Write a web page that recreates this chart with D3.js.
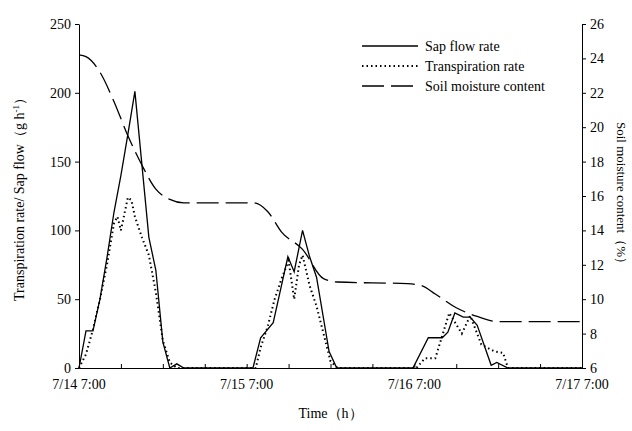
<!DOCTYPE html>
<html><head><meta charset="utf-8">
<script src="https://cdn.jsdelivr.net/npm/d3@7.9.0/dist/d3.min.js"></script>
<style>body{margin:0;background:#fff}text{font-family:"Liberation Serif",serif;fill:#000}</style>
</head><body><svg id="c" width="632" height="431"></svg>
<script>
// hours since 7/14 7:00
const sapHours = [0,1,2,3,4,5,6,7,8,9,10,11,12,13,14,15, 24.9,26,27.8,29.9,30.8,32,33,34,35.8,36.9, 47.8,50,52,52.8,53.8,55,56,57,59,59.8,61.4,72];
const sapFlow  = [0,27,27,50,80,113,140,170,201,148,95,71,19,0,3,0, 0,22,33,81,70,100,81,66,12,0, 0,22,22,26,40,37,37,31,2,4,0,0];
const trHours = [0,1,2,3,4,5,5.5,6,7,7.5,8,9,10,11,12,13,14, 25.3,26,27,28,29,30,30.8,31.5,32,33,34,35,36,37, 48.3,49.5,51,53,54.8,56,57.6,59.5,60.7,61.4,72];
const transp  = [0,10,28,50,75,105,110,100,124,122,110,95,82,55,20,4,0, 0,15,30,50,65,78,50,75,82,60,45,25,5,0, 0,7,7,40,25,38,17,12,11,0,0];
const smHours = [0,1,3,5,7,9,11,13,15,17,25,27,29,32,35,37,47,49,51,54,57,60,72];
const soil    = [24.2,24.1,23.2,21.5,19.5,17.8,16.4,15.8,15.6,15.6,15.6,15.1,13.9,12.9,11.2,11,10.9,10.8,10.3,9.5,9,8.7,8.7];
const xTickLabels = ["7/14 7:00","7/15 7:00","7/16 7:00","7/17 7:00"];

const svg = d3.select("#c");
const L = 79, R = 582, T = 24, B = 368;
const x = d3.scaleLinear().domain([0,72]).range([L,R]);
const y = d3.scaleLinear().domain([0,250]).range([B,T]);
const y2 = d3.scaleLinear().domain([6,26]).range([B,T]);

const fs = "14px";
svg.append("g").attr("transform",`translate(0,${B})`)
  .call(d3.axisBottom(x).tickValues(d3.range(0,73,6)).tickSize(-4).tickFormat(""))
  .call(g=>g.selectAll("line,path").attr("stroke","#000"));
svg.append("g").selectAll("text").data(xTickLabels).join("text")
  .attr("x",(d,i)=>x(i*24)).attr("y",B+21).attr("text-anchor","middle").style("font-size",fs).text(d=>d);
svg.append("g").attr("transform",`translate(${L},0)`)
  .call(d3.axisLeft(y).ticks(5).tickSize(4).tickSizeOuter(0))
  .call(g=>g.selectAll("line,path").attr("stroke","#000"))
  .call(g=>g.selectAll("text").style("font-size",fs).attr("font-family","Liberation Serif").attr("x",-8));
svg.append("g").attr("transform",`translate(${R},0)`)
  .call(d3.axisRight(y2).ticks(10).tickSize(4).tickSizeOuter(0))
  .call(g=>g.selectAll("line,path").attr("stroke","#000"))
  .call(g=>g.selectAll("text").style("font-size",fs).attr("font-family","Liberation Serif").attr("x",8));

const line = (xs,ys,sc,c)=>d3.line().curve(c||d3.curveLinear).x(i=>x(xs[i])).y(i=>sc(ys[i]))(d3.range(xs.length));
svg.append("path").attr("d",line(smHours,soil,y2,d3.curveMonotoneX)).attr("fill","none").attr("stroke","#000")
  .attr("stroke-width",1.3).attr("stroke-dasharray","22,7");
svg.append("path").attr("d",line(trHours,transp,y)).attr("fill","none").attr("stroke","#000")
  .attr("stroke-width",2).attr("stroke-dasharray","1.5,3");
svg.append("path").attr("d",line(sapHours,sapFlow,y)).attr("fill","none").attr("stroke","#000").attr("stroke-width",1.3);

const leg = [["Sap flow rate",null,1.3],["Transpiration rate","1.5,3",2],["Soil moisture content","22,7",1.3]];
leg.forEach((d,i)=>{
  const yy = 46 + i*20;
  svg.append("line").attr("x1",362).attr("x2",418).attr("y1",yy).attr("y2",yy)
    .attr("stroke","#000").attr("stroke-width",d[2]).attr("stroke-dasharray",d[1]);
  svg.append("text").attr("x",425).attr("y",yy+5).style("font-size",fs).text(d[0]);
});

svg.append("text").attr("x",(L+R)/2).attr("y",418).attr("text-anchor","middle").style("font-size",fs).text("Time（h）");
svg.append("text").attr("transform",`translate(24,${(T+B)/2}) rotate(-90)`).attr("text-anchor","middle")
  .style("font-size",fs).html("Transpiration rate/ Sap flow（g h<tspan dy='-5' font-size='9'>-1</tspan><tspan dy='5'>）</tspan>");
svg.append("text").attr("transform",`translate(617,${(T+B)/2}) rotate(90)`).attr("text-anchor","middle")
  .style("font-size","13px").text("Soil moisture content（%）");
</script></body></html>
